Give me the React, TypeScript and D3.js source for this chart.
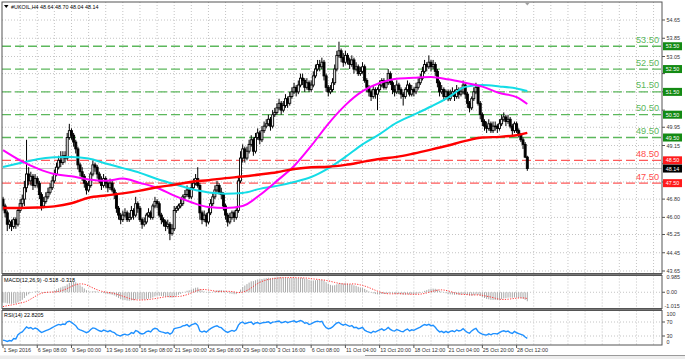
import React from "react";
import * as d3 from "d3";

const W = 685;
const H = 359;

// ---- price data (H4 bars) ----
const firstOpen = 46.8;
const closes = [
  46.5, 46.2, 45.7, 45.8, 45.6, 45.9, 45.7, 46.3, 46.6, 46.8,
  47.3, 47.9, 47.6, 47.8, 47.4, 47.7, 47.5, 47.0, 46.5, 46.7,
  46.9, 47.1, 47.3, 47.6, 47.9, 48.2, 48.5, 48.4, 48.7, 48.6,
  49.5, 49.8, 49.6, 49.3, 49.0, 48.3, 48.0, 47.8, 47.5, 47.2,
  47.4, 47.9, 48.3, 48.2, 47.9, 47.6, 47.4, 47.7, 47.5, 47.3,
  47.5, 47.2, 47.0, 46.4, 46.1, 45.9, 46.1, 46.2, 45.9, 46.0,
  46.3, 46.1, 46.6, 46.4, 45.9, 45.7, 45.8, 46.1, 46.2, 46.0,
  46.5, 46.7, 46.6, 46.1, 45.9, 45.8, 45.6, 45.7, 45.3, 45.5,
  46.3, 46.4, 46.5, 46.6, 46.9, 47.0, 47.2, 46.9, 47.3, 47.5,
  47.7, 47.4, 46.2, 45.9, 46.1, 45.8, 46.2, 46.6, 46.9, 47.2,
  47.4, 47.1, 47.0, 46.5, 46.1, 45.8, 46.0, 46.2, 46.0, 46.3,
  47.6, 48.6, 49.0, 48.6, 48.9, 49.2, 49.4, 48.9, 49.5, 49.7,
  49.4, 49.8, 50.0, 50.1, 50.3, 50.0, 50.5, 50.6, 50.8, 51.0,
  50.7, 50.9, 51.2, 51.0, 51.3, 51.5, 51.7, 51.5, 51.8, 52.1,
  52.0, 51.7, 51.9, 51.6, 51.8, 52.2, 52.5, 52.7, 52.6, 52.8,
  52.2, 51.7, 51.5, 51.6, 51.9, 52.5, 53.1, 53.3, 53.0, 52.8,
  53.1, 52.9, 52.7, 52.9, 52.5, 52.6, 52.3, 52.4, 52.6, 52.0,
  51.7, 51.5, 51.3, 51.6, 51.4, 51.6, 51.8, 52.0, 51.7, 51.9,
  52.3, 51.9, 51.6, 51.5, 51.8, 51.6, 51.4, 51.3, 51.6, 51.8,
  51.4, 51.6, 51.5, 51.7, 51.9, 52.1, 52.4, 52.7, 52.6, 52.8,
  52.6, 52.7, 52.4, 51.9, 51.5, 51.6, 51.3, 51.5, 51.2, 51.4,
  51.5, 51.3, 51.6, 51.4, 51.5, 51.8, 51.4, 51.0, 50.8, 51.2,
  51.5, 51.7, 51.0, 50.5, 50.2, 50.0, 49.9, 50.1, 49.8, 50.0,
  50.0, 49.9, 50.1, 50.3, 50.4, 50.2, 50.3, 50.0, 49.8, 50.1,
  49.8, 49.6, 49.4, 49.2, 48.64, 48.14,
];
const highs = [
  46.9, 46.6, 46.3, 45.9, 45.9, 46.0, 46.0, 46.4, 46.8, 47.0,
  47.6, 49.4, 48.2, 48.0, 47.9, 47.9, 47.8, 47.6, 47.1, 46.9,
  47.1, 47.3, 47.5, 47.8, 48.1, 48.4, 48.7, 48.9, 48.9, 48.9,
  49.7, 50.1, 49.9, 49.7, 49.4, 49.1, 48.4, 48.2, 47.9, 47.6,
  47.6, 48.0, 48.5, 48.4, 48.3, 48.0, 47.8, 47.9, 47.8, 47.6,
  47.7, 47.6, 47.3, 47.1, 46.5, 46.2, 46.3, 46.4, 46.3, 46.2,
  46.5, 46.4, 46.9, 46.7, 46.5, 46.0, 46.0, 46.2, 46.4, 46.3,
  46.6, 46.9, 46.8, 46.7, 46.2, 46.0, 45.9, 45.9, 45.8, 45.7,
  46.5, 46.5, 46.6, 46.8, 47.0, 47.2, 47.4, 47.3, 47.5, 47.7,
  47.9, 48.2, 47.5, 46.3, 46.3, 46.2, 46.4, 46.8, 47.1, 47.4,
  47.6, 47.5, 47.3, 47.1, 46.6, 46.2, 46.2, 46.3, 46.3, 46.4,
  47.8, 48.9, 49.2, 49.1, 49.1, 49.4, 49.6, 49.5, 49.7, 49.9,
  49.8, 50.0, 50.2, 50.3, 50.5, 50.4, 50.7, 50.8, 51.0, 51.2,
  51.1, 51.1, 51.4, 51.3, 51.5, 51.7, 51.9, 51.8, 52.0, 52.3,
  52.3, 52.1, 52.1, 52.0, 52.0, 52.4, 52.7, 52.9, 52.9, 53.0,
  52.9, 52.3, 51.8, 51.8, 52.1, 52.7, 53.3, 53.7, 53.4, 53.2,
  53.3, 53.2, 53.0, 53.1, 53.0, 52.8, 52.7, 52.6, 52.8, 52.7,
  52.1, 51.8, 51.6, 51.8, 51.7, 51.7, 52.0, 52.1, 52.1, 52.0,
  52.5, 52.4, 52.0, 51.8, 52.0, 51.9, 51.7, 51.5, 51.7, 52.0,
  51.9, 51.8, 51.7, 51.9, 52.1, 52.3, 52.6, 52.9, 52.8, 53.1,
  52.9, 52.9, 52.8, 52.5, 52.0, 51.8, 51.7, 51.6, 51.6, 51.6,
  51.7, 51.6, 51.8, 51.7, 51.7, 52.0, 51.9, 51.5, 51.1, 51.3,
  51.7, 51.9, 51.8, 51.1, 50.6, 50.3, 50.2, 50.3, 50.2, 50.2,
  50.2, 50.1, 50.3, 50.5, 50.6, 50.5, 50.5, 50.4, 50.1, 50.2,
  50.2, 49.9, 49.7, 49.5, 49.3, 48.7,
];
const lows = [
  46.3, 46.0, 45.4, 45.5, 45.4, 45.5, 45.5, 45.6, 46.2, 46.4,
  46.5, 47.1, 47.4, 47.4, 47.2, 47.3, 47.3, 46.8, 46.3, 46.4,
  46.6, 46.8, 47.0, 47.2, 47.5, 47.8, 48.1, 48.2, 48.3, 48.4,
  48.5, 49.4, 49.4, 49.1, 48.8, 48.1, 47.8, 47.6, 47.3, 47.0,
  47.1, 47.3, 47.8, 48.0, 47.7, 47.5, 47.2, 47.3, 47.3, 47.1,
  47.2, 47.1, 46.8, 46.2, 45.9, 45.7, 45.8, 46.0, 45.8, 45.8,
  45.9, 45.9, 46.0, 46.2, 45.8, 45.5, 45.6, 45.7, 46.0, 45.9,
  45.9, 46.4, 46.4, 46.0, 45.7, 45.6, 45.4, 45.5, 45.0, 45.2,
  45.4, 46.2, 46.3, 46.4, 46.5, 46.8, 46.9, 46.8, 46.8, 47.2,
  47.4, 47.3, 45.9, 45.7, 45.8, 45.6, 45.7, 46.1, 46.5, 46.8,
  47.1, 47.0, 46.8, 46.3, 45.9, 45.6, 45.7, 45.9, 45.8, 45.9,
  46.2, 47.5, 48.4, 48.4, 48.5, 48.8, 49.1, 48.7, 48.8, 49.4,
  49.2, 49.3, 49.7, 49.9, 50.0, 49.8, 49.9, 50.4, 50.5, 50.7,
  50.5, 50.6, 50.8, 50.8, 50.9, 51.2, 51.4, 51.3, 51.4, 51.7,
  51.8, 51.5, 51.6, 51.5, 51.5, 51.7, 52.1, 52.4, 52.4, 52.5,
  52.0, 51.5, 51.3, 51.4, 51.5, 51.8, 52.4, 53.0, 52.8, 52.6,
  52.7, 52.7, 52.5, 52.6, 52.3, 52.4, 52.2, 52.2, 52.3, 51.9,
  51.5, 51.3, 51.1, 51.2, 51.2, 50.7, 51.5, 51.7, 51.6, 51.6,
  51.8, 51.8, 51.4, 51.3, 51.4, 51.4, 51.2, 50.9, 51.2, 51.5,
  51.3, 51.3, 51.3, 51.4, 51.6, 51.8, 52.0, 52.3, 52.4, 52.5,
  52.4, 52.5, 52.2, 51.7, 51.3, 51.4, 51.1, 51.2, 51.1, 51.1,
  51.3, 51.1, 51.2, 51.2, 51.3, 51.4, 51.2, 50.8, 50.6, 50.7,
  51.1, 51.4, 50.9, 50.3, 50.0, 49.8, 49.7, 49.8, 49.7, 49.7,
  49.8, 49.7, 49.8, 50.0, 50.2, 50.0, 50.1, 49.9, 49.6, 49.7,
  49.7, 49.5, 49.3, 49.0, 48.6, 48.04,
];

const maSampleBars = [0, 8, 16, 24, 32, 40, 48, 56, 64, 72, 80, 88, 96, 104, 112, 120, 128, 136, 144, 152, 160, 168, 176, 184, 192, 200, 208, 216, 224, 232, 240, 245];
const maRed = [46.41, 46.41, 46.43, 46.48, 46.62, 46.86, 46.96, 47.05, 47.17, 47.32, 47.43, 47.56, 47.63, 47.72, 47.79, 47.88, 47.98, 48.12, 48.2, 48.22, 48.3, 48.43, 48.56, 48.65, 48.8, 48.97, 49.15, 49.35, 49.5, 49.53, 49.6, 49.7];
const maCyan = [48.21, 48.38, 48.55, 48.63, 48.65, 48.58, 48.36, 48.16, 47.95, 47.68, 47.46, 47.24, 47.09, 47.04, 47.07, 47.25, 47.38, 47.55, 47.77, 48.15, 48.65, 49.2, 49.65, 50.15, 50.5, 50.86, 51.25, 51.72, 51.8, 51.74, 51.65, 51.54];
const maMagenta = [48.95, 48.5, 48.15, 47.9, 47.8, 47.66, 47.6, 47.7, 47.51, 47.3, 46.95, 46.66, 46.45, 46.41, 46.5, 46.98, 47.6, 48.25, 49.13, 50.1, 50.92, 51.53, 51.89, 52.08, 52.12, 52.15, 52.05, 51.9, 51.73, 51.45, 51.27, 50.97];

// indicator state before the first visible bar (estimated)
const macdSeedFast = 46.9;
const macdSeedSlow = 47.55;
const macdSignalSeed = -0.9;
const rsiSeedGain = 0.05;
const rsiSeedLoss = 0.2;

// ---- axes / labels ----
const timeLabels = ["1 Sep 2016", "6 Sep 08:00", "9 Sep 00:00", "13 Sep 16:00", "16 Sep 08:00", "21 Sep 00:00", "26 Sep 08:00", "29 Sep 00:00", "3 Oct 16:00", "6 Oct 08:00", "11 Oct 04:00", "13 Oct 20:00", "18 Oct 12:00", "21 Oct 04:00", "25 Oct 20:00", "28 Oct 12:00"];
const timeLabelBars = [0, 16, 32, 48, 64, 80, 96, 112, 128, 144, 160, 176, 192, 208, 224, 240];
const priceTicks = [54.65, 53.85, 53.05, 52.3, 51.5, 50.7, 49.95, 49.15, 48.35, 47.55, 46.8, 46.0, 45.25, 44.45, 43.65];
const greenLevels = [53.5, 52.5, 51.5, 50.5, 49.5];
const redLevels = [48.5, 47.5];
const lastPrice = 48.14;
const headerText = "#UKOIL,H4  48.64 48.70 48.04 48.14";
const macdText = "MACD(12,26,9) -0.518 -0.318";
const rsiText = "RSI(14) 22.8205";
const rsiLevels = [70, 30];

const FONT = "'Liberation Sans', Arial, sans-serif";
const GRID = "#c4c4c4";
const PL = 2, PR = 662;
const MAIN_T = 2, MAIN_B = 273.5;
const MACD_T = 275.5, MACD_B = 308.5;
const RSI_T = 310.5, RSI_B = 345;

export default function App() {
  const x = d3.scaleLinear().domain([0, 308]).range([3, 3 + 2.14 * 308]);
  const y = d3.scaleLinear().domain([43.65, 54.65]).range([271, 20]);
  const yM = d3.scaleLinear().domain([-1.015, 0.985]).range([309, 276]);
  const yR = d3.scaleLinear().domain([0, 100]).range([346.5, 311.5]);

  const bars = closes.map((c, i) => {
    const o = i === 0 ? firstOpen : closes[i - 1];
    return { i, o, c, h: Math.max(highs[i], o, c), l: Math.min(lows[i], o, c) };
  });

  // MACD(12,26,9)
  const k12 = 2 / 13, k26 = 2 / 27;
  let e12 = macdSeedFast, e26 = macdSeedSlow;
  const macd = closes.map((c) => {
    e12 += (c - e12) * k12;
    e26 += (c - e26) * k26;
    return e12 - e26;
  });
  const signal = macd.map((_, i) => {
    let s = 0;
    for (let j = i - 8; j <= i; j++) s += j < 0 ? macdSignalSeed : macd[j];
    return s / 9;
  });

  // RSI(14)
  let ag = rsiSeedGain, al = rsiSeedLoss;
  const rsi = closes.map((c, i) => {
    const p = i === 0 ? firstOpen : closes[i - 1];
    const d = c - p;
    ag = (ag * 13 + Math.max(d, 0)) / 14;
    al = (al * 13 + Math.max(-d, 0)) / 14;
    return 100 - 100 / (1 + ag / al);
  });

  const maLine = d3
    .line<number>()
    .x((_, j) => x(maSampleBars[j]))
    .y((d) => y(d))
    .curve(d3.curveMonotoneX);

  const sigLine = d3.line<number>().x((_, i) => x(i)).y((d) => yM(d));
  const rsiLine = d3.line<number>().x((_, i) => x(i)).y((d) => yR(d));

  const gridXs: number[] = [];
  for (let k = 1; k * 8 <= 308; k++) {
    const gx = x(k * 8);
    if (gx < PR - 1) gridXs.push(gx);
  }

  const tiny = 5.4;
  const boxValues = [...greenLevels, ...redLevels, lastPrice];
  // tick labels fully hidden behind the price boxes are not drawn (as in the reference)
  const visibleTicks = priceTicks.filter((p) => !boxValues.some((v) => Math.abs(y(v) - y(p)) < 5));

  const box = (v: number, color: string, key: string) => (
    <g key={key}>
      <rect x={663} y={y(v) - 4} width={19} height={8} fill={color} />
      <text x={672.5} y={y(v) + 2} fontSize={tiny} fill="#fff" textAnchor="middle" fontFamily={FONT}>
        {v.toFixed(2)}
      </text>
    </g>
  );

  return (
    <svg width={W} height={H} style={{ position: "absolute", left: 0, top: 0, background: "#fff" }}>
      <defs>
        <clipPath id="mainClip">
          <rect x={PL} y={MAIN_T} width={PR - PL} height={MAIN_B - MAIN_T} />
        </clipPath>
        <clipPath id="macdClip">
          <rect x={PL} y={MACD_T} width={PR - PL} height={MACD_B - MACD_T} />
        </clipPath>
        <clipPath id="rsiClip">
          <rect x={PL} y={RSI_T} width={PR - PL} height={RSI_B - RSI_T} />
        </clipPath>
      </defs>
      <rect x={0} y={0} width={W} height={H} fill="#fff" />

      {/* grids */}
      <g stroke={GRID} strokeWidth={1} strokeDasharray="1 2">
        {gridXs.map((gx, k) => (
          <g key={"gx" + k}>
            <line x1={gx} x2={gx} y1={MAIN_T} y2={MAIN_B} />
            <line x1={gx} x2={gx} y1={MACD_T} y2={MACD_B} />
            <line x1={gx} x2={gx} y1={RSI_T} y2={RSI_B} />
          </g>
        ))}
        {priceTicks.map((p, k) => (
          <line key={"gy" + k} x1={PL} x2={PR} y1={y(p)} y2={y(p)} />
        ))}
        <line x1={PL} x2={PR} y1={yM(0)} y2={yM(0)} />
        {rsiLevels.map((v) => (
          <line key={"rl" + v} x1={PL} x2={PR} y1={yR(v)} y2={yR(v)} />
        ))}
      </g>

      {/* current price line */}
      <line x1={PL} x2={PR} y1={y(lastPrice)} y2={y(lastPrice)} stroke="#c0c0c0" strokeWidth={1} />

      {/* level lines */}
      {greenLevels.map((v) => (
        <line key={"gl" + v} x1={PL} x2={PR} y1={y(v)} y2={y(v)} stroke="#5cb85c" strokeWidth={1.3} strokeDasharray="9 4" />
      ))}
      {redLevels.map((v) => (
        <line key={"rdl" + v} x1={PL} x2={PR} y1={y(v)} y2={y(v)} stroke="#ff5a5a" strokeWidth={1.3} strokeDasharray="9 4" />
      ))}

      {/* candles */}
      <g clipPath="url(#mainClip)">
        {bars.map((b) => {
          const cx = x(b.i);
          const bull = b.c >= b.o;
          const top = y(Math.max(b.o, b.c));
          const bot = y(Math.min(b.o, b.c));
          return (
            <g key={"c" + b.i}>
              <line x1={cx} x2={cx} y1={y(b.h)} y2={y(b.l)} stroke="#000" strokeWidth={1} />
              <rect x={cx - 1} y={top} width={2} height={Math.max(bot - top, 0.6)} fill={bull ? "#fff" : "#000"} stroke="#000" strokeWidth={0.9} />
            </g>
          );
        })}
        <path d={maLine(maCyan) || ""} fill="none" stroke="#14dce6" strokeWidth={2} />
        <path d={maLine(maMagenta) || ""} fill="none" stroke="#ff00ff" strokeWidth={2} />
        <path d={maLine(maRed) || ""} fill="none" stroke="#ff0000" strokeWidth={2.4} />
      </g>

      {/* level text labels */}
      {greenLevels.map((v) => (
        <text key={"glt" + v} x={659} y={y(v) - 3.5} fontSize={9.2} fill="#5cb85c" textAnchor="end" fontFamily={FONT}>
          {v.toFixed(2)}
        </text>
      ))}
      {redLevels.map((v) => (
        <text key={"rlt" + v} x={659} y={y(v) - 3.5} fontSize={9.2} fill="#ff4d4d" textAnchor="end" fontFamily={FONT}>
          {v.toFixed(2)}
        </text>
      ))}

      {/* MACD */}
      <g clipPath="url(#macdClip)">
        {macd.map((m, i) => (
          <line key={"m" + i} x1={x(i)} x2={x(i)} y1={yM(0)} y2={yM(m)} stroke="#a8a8a8" strokeWidth={1} />
        ))}
        <path d={sigLine(signal) || ""} fill="none" stroke="#ff3030" strokeWidth={1} strokeDasharray="1.2 1.4" />
      </g>

      {/* RSI */}
      <g clipPath="url(#rsiClip)">
        <path d={rsiLine(rsi) || ""} fill="none" stroke="#1e90ff" strokeWidth={1.4} />
      </g>

      {/* frames */}
      <g fill="none" stroke="#555" strokeWidth={1}>
        <rect x={PL} y={MAIN_T} width={PR - PL} height={MAIN_B - MAIN_T} />
        <rect x={PL} y={MACD_T} width={PR - PL} height={MACD_B - MACD_T} />
        <rect x={PL} y={RSI_T} width={PR - PL} height={RSI_B - RSI_T} />
      </g>
      <line x1={PL} x2={PR} y1={MAIN_B + 0.8} y2={MAIN_B + 0.8} stroke="#555" strokeWidth={1} />
      <line x1={PL} x2={PR} y1={MACD_B + 0.8} y2={MACD_B + 0.8} stroke="#555" strokeWidth={1} />

      {/* header texts */}
      <path d="M4,5 L8.5,5 L6.25,8 Z" fill="#000" />
      <text x={11} y={9} fontSize={tiny} fill="#000" fontFamily={FONT}>{headerText}</text>
      <text x={4} y={281.5} fontSize={tiny} fill="#000" fontFamily={FONT}>{macdText}</text>
      <text x={4} y={316.5} fontSize={tiny} fill="#000" fontFamily={FONT}>{rsiText}</text>
      <path d={`M${x(245) - 2.5},2.5 L${x(245) + 2.5},2.5 L${x(245)},5.5 Z`} fill="#a0a0a0" />

      {/* right price axis */}
      {priceTicks.map((p, k) => (
        <line key={"ptk" + k} x1={PR} x2={PR + 3} y1={y(p)} y2={y(p)} stroke="#555" />
      ))}
      {visibleTicks.map((p, k) => (
        <text key={"pt" + k} x={666.5} y={y(p) + 2} fontSize={tiny} fill="#333" fontFamily={FONT}>
          {p.toFixed(2)}
        </text>
      ))}
      {greenLevels.map((v) => box(v, "#138a13", "gb" + v))}
      {redLevels.map((v) => box(v, "#ff1a1a", "rb" + v))}
      {box(lastPrice, "#000", "lp")}

      {/* MACD axis */}
      <text x={666.5} y={279} fontSize={tiny} fill="#333" fontFamily={FONT}>0.985</text>
      <line x1={PR} x2={PR + 3} y1={yM(0)} y2={yM(0)} stroke="#555" />
      <text x={666.5} y={yM(0) + 2} fontSize={tiny} fill="#333" fontFamily={FONT}>0.00</text>
      <text x={664.5} y={307.5} fontSize={tiny} fill="#333" fontFamily={FONT}>-1.015</text>

      {/* RSI axis */}
      <text x={666.5} y={315.5} fontSize={tiny} fill="#333" fontFamily={FONT}>100</text>
      <text x={666.5} y={yR(70) + 2} fontSize={tiny} fill="#333" fontFamily={FONT}>70</text>
      <text x={666.5} y={yR(30) + 2} fontSize={tiny} fill="#333" fontFamily={FONT}>30</text>
      <text x={666.5} y={344} fontSize={tiny} fill="#333" fontFamily={FONT}>0</text>
      {rsiLevels.map((v) => (
        <line key={"rt" + v} x1={PR} x2={PR + 3} y1={yR(v)} y2={yR(v)} stroke="#555" />
      ))}

      {/* time axis */}
      {timeLabels.map((t, k) => {
        const tx = x(timeLabelBars[k]);
        return (
          <g key={"t" + k}>
            <line x1={tx} x2={tx} y1={RSI_B} y2={RSI_B + 3} stroke="#555" />
            <text x={tx + 0.5} y={352} fontSize={tiny} fill="#333" fontFamily={FONT}>
              {t}
            </text>
          </g>
        );
      })}

      {/* bottom strip */}
      <rect x={0} y={355.5} width={W} height={4} fill="#ececec" />
      <line x1={365} x2={W} y1={355.5} y2={355.5} stroke="#9a9a9a" />
    </svg>
  );
}
